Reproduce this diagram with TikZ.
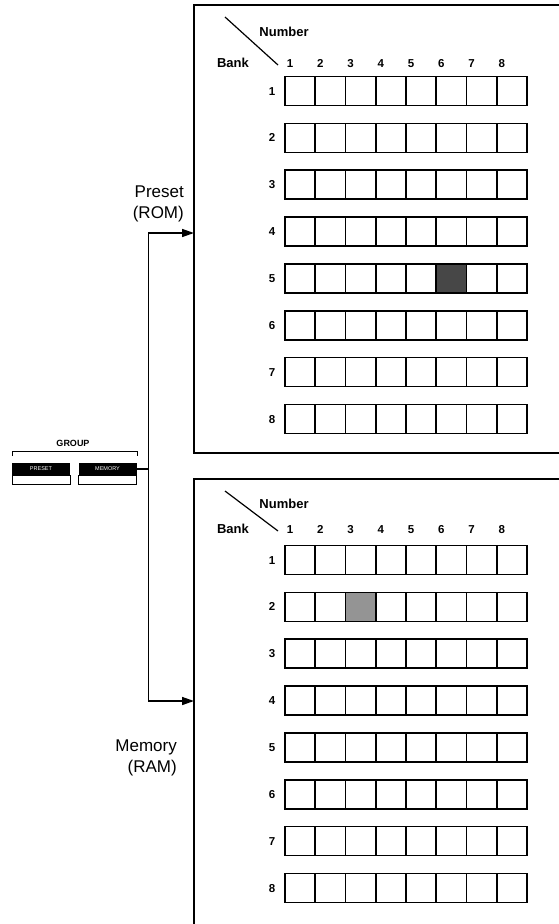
\documentclass[tikz,border=0pt]{standalone}
\usepackage{fontspec}
\setmainfont{Liberation Sans}
\usetikzlibrary{arrows.meta}
\begin{document}
\begin{tikzpicture}[x=1pt,y=-1pt,
  cell/.style={draw, line width=1.6pt, minimum width=30.25pt, minimum height=29pt, inner sep=0pt},
  panel/.style={line width=1.8pt},
  conn/.style={line width=1.5pt},
  arr/.style={conn, -{Triangle[length=12pt,width=8pt]}},
  hdr/.style={font=\bfseries\fontsize{13}{15}\selectfont, inner sep=0pt},
  num/.style={font=\bfseries\fontsize{11.5}{13}\selectfont, inner sep=0pt, text height=8.2pt, text depth=0pt},
  lab/.style={font=\fontsize{17}{21}\selectfont, align=right, inner sep=0pt},
  btn/.style={fill=black, text=white, minimum width=58pt, minimum height=12.5pt, inner sep=0pt, font=\fontsize{5.5}{6}\selectfont},
  keybox/.style={draw, line width=1pt, minimum width=58pt, minimum height=9pt, inner sep=0pt},
  darkcell/.style={fill=black!72},
  lightcell/.style={fill=black!42}
]
\useasboundingbox (0,0) rectangle (559,924);
\clip (0,0) rectangle (559,924);

% ---------- panels ----------
\draw[panel] (600,5) -- (194,5) -- (194,453) -- (600,453);
\draw[panel] (600,479) -- (194,479) -- (194,960);

% ---------- grids ----------
\foreach \P/\top/\numy/\coly/\rowone in {t/5/32/63/91, b/479/504/529/560} {
  \draw[line width=1.2pt] (225,\top+12) -- (278,\coly+2);
  \node[hdr] (\P-number) at (284,\numy) {Number};
  \node[hdr] (\P-bank) at (233,\coly) {Bank};
  \foreach \c in {1,...,8}
    \node[num] (\P-col\c) at ({290+30.25*(\c-1)}, \coly) {\c};
  \foreach \r in {1,...,8} {
    \node[num] (\P-row\r) at (272, {\rowone+46.85*(\r-1)}) {\r};
    \foreach \c in {1,...,8}
      \node[cell] (\P-\r-\c) at ({285+30.25*(\c-0.5)}, {\rowone+46.85*(\r-1)}) {};
  }
}
% shaded cells
\node[cell, darkcell] at (t-5-6) {};
\node[cell, lightcell] at (b-2-3) {};

% ---------- group buttons ----------
\node[font=\bfseries\fontsize{9}{10}\selectfont, inner sep=0pt] (group) at (73,443) {GROUP};
\draw[line width=1pt] (12,456) -- (12,451) -- (137,451) -- (137,456);
\node[btn] (preset) at (41,469) {PRESET};
\node[btn] (memory) at (107.5,469) {MEMORY};
\node[keybox, anchor=north] (presetkey) at (preset.south) {};
\node[keybox, anchor=north] (memorykey) at (memory.south) {};

% ---------- connectors ----------
\coordinate (romin) at (194,233);
\coordinate (ramin) at (194,701);
\draw[conn] (memory.east) -- ++(12,0) coordinate (split);
\draw[arr] (split) |- (romin);
\draw[arr] (split) |- (ramin);

% ---------- labels ----------
\node[lab, anchor=south east] (rom) at (184,222) {Preset\\(ROM)};
\node[lab, anchor=south east] (ram) at (177,776) {Memory\\(RAM)};
\end{tikzpicture}
\end{document}
